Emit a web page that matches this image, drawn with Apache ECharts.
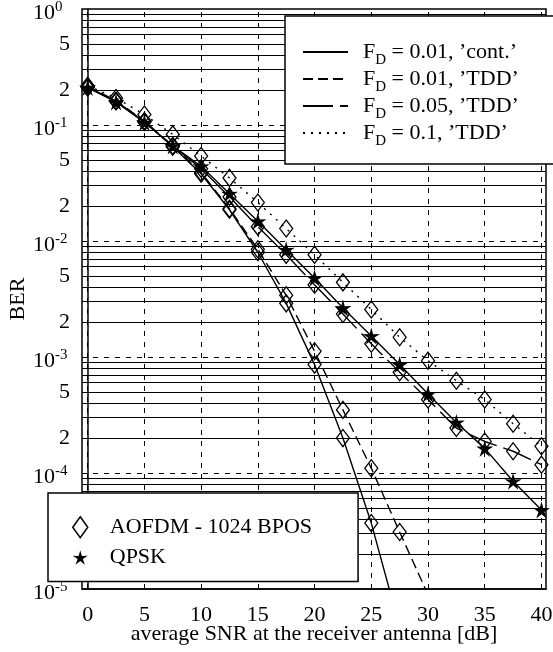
<!DOCTYPE html>
<html>
<head>
<meta charset="utf-8">
<script src="https://cdn.jsdelivr.net/npm/echarts@6/dist/echarts.min.js"></script>
<style>
  html, body { margin: 0; background: #fff; }
  #chart { width: 553px; height: 652px; }
</style>
</head>
<body>
<div id="chart"></div>
<script>
const SERIF = '"Liberation Serif", "DejaVu Serif", serif';

// average SNR [dB]
const snr = [0, 2.5, 5, 7.5, 10, 12.5, 15, 17.5, 20, 22.5, 25, 27.5, 30, 32.5, 35, 37.5, 40];

// AOFDM - 1024 BPOS, BER per SNR point
const aofdmFd001Cont = [0.213, 0.16, 0.107, 0.065, 0.038, 0.0186, 0.0080, 0.0029, 0.00086, 0.0002, 0.000037, 0.0000047];
const aofdmFd001Tdd = [0.215, 0.162, 0.108, 0.066, 0.039, 0.019, 0.0085, 0.0034, 0.00112, 0.00035, 0.00011, 0.000031, 0.0000089];
const aofdmFd005Tdd = [0.21, 0.16, 0.106, 0.066, 0.042, 0.024, 0.0133, 0.0076, 0.0042, 0.00235, 0.0013, 0.00074, 0.00043, 0.000244, 0.000187, 0.000154, 0.000118];
const aofdmFd01Tdd = [0.218, 0.171, 0.123, 0.083, 0.054, 0.035, 0.0215, 0.0128, 0.0076, 0.0044, 0.00257, 0.00148, 0.00093, 0.000625, 0.00043, 0.000266, 0.00017];
// QPSK
const qpsk = [0.21, 0.158, 0.105, 0.066, 0.044, 0.0256, 0.0148, 0.0084, 0.0048, 0.00264, 0.00152, 0.00086, 0.00048, 0.000273, 0.000163, 0.000085, 0.000048];

// axes
const xTickValues = [0, 5, 10, 15, 20, 25, 30, 35, 40];
const decadeExponents = [-5, -4, -3, -2, -1, 0];
const minorMantissas = [2, 3, 4, 5, 6, 7, 8, 9];
const labelledMantissas = [2, 5];

// legend texts
const lineLegendNames = ['FD = 0.01, ’cont.’', 'FD = 0.01, ’TDD’', 'FD = 0.05, ’TDD’', 'FD = 0.1, ’TDD’'];
const markerLegendNames = ['AOFDM - 1024 BPOS', 'QPSK'];

const STAR = 'path://M0,-10 L2.06,-2.83 L9.51,-3.09 L3.33,1.08 L5.88,8.09 L0,3.5 L-5.88,8.09 L-3.33,1.08 L-9.51,-3.09 L-2.06,-2.83 Z';

const dashTypes = ['solid', [10, 5], [30, 7], [2, 6]];
const diamondStyle = { color: 'rgba(255,255,255,0)', borderColor: '#000', borderWidth: 1.3 };

function pairs(ys) {
  return ys.map((y, i) => [snr[i], y]);
}

// grid lines: dashed verticals and decades, solid minor decades
const gridLines = [];
xTickValues.forEach(v => gridLines.push({ xAxis: v, lineStyle: { type: [5, 6], width: 1, color: '#000' } }));
decadeExponents.forEach(e => {
  if (e === 0 || e === -5) return;
  gridLines.push({ yAxis: Math.pow(10, e), lineStyle: { type: [5, 6], width: 1, color: '#000' } });
});
decadeExponents.forEach(e => {
  if (e === 0) return;
  minorMantissas.forEach(m => {
    const item = { yAxis: m * Math.pow(10, e), lineStyle: { type: 'solid', width: 1, color: '#000' } };
    if (labelledMantissas.includes(m)) {
      item.label = { show: true, formatter: String(m) };
    }
    gridLines.push(item);
  });
});

const aofdmSets = [aofdmFd001Cont, aofdmFd001Tdd, aofdmFd005Tdd, aofdmFd01Tdd];

const series = [];
series.push({
  name: 'grid', type: 'line', data: [], symbol: 'none', silent: true, z: 1,
  markLine: {
    silent: true, z: 1, precision: 12, symbol: ['none', 'none'], animation: false,
    label: { show: false, position: 'start', distance: 12, color: '#000', fontFamily: SERIF, fontSize: 22 },
    emphasis: { disabled: true },
    data: gridLines
  }
});
aofdmSets.forEach((ys, i) => {
  series.push({
    name: 'aofdm' + i, type: 'line', data: pairs(ys),
    symbol: 'diamond', symbolSize: [13, 17], showAllSymbol: true,
    itemStyle: diamondStyle,
    lineStyle: { color: '#000', width: 1.4, type: dashTypes[i] },
    z: 3
  });
});
series.push({
  name: 'qpsk', type: 'line', data: pairs(qpsk),
  symbol: STAR, symbolSize: 17, showAllSymbol: true,
  itemStyle: { color: '#000' },
  lineStyle: { color: '#000', width: 1.4, type: 'solid' },
  z: 3
});
// legend-only entries
lineLegendNames.forEach((name, i) => {
  series.push({ name, type: 'line', data: [], symbol: 'none', color: '#000', lineStyle: { color: '#000', width: 1.4, type: dashTypes[i] } });
});
series.push({ name: markerLegendNames[0], type: 'line', data: [], symbol: 'diamond', color: '#000', itemStyle: diamondStyle });
series.push({ name: markerLegendNames[1], type: 'line', data: [], symbol: STAR, color: '#000', itemStyle: { color: '#000' } });

const chart = echarts.init(document.getElementById('chart'), null, { renderer: 'canvas' });
chart.setOption({
  animation: false,
  backgroundColor: '#fff',
  textStyle: { fontFamily: SERIF, color: '#000' },
  grid: {
    left: 82, right: 7, top: 9, bottom: 63, outerBoundsMode: 'none', containLabel: false,
    show: true, borderColor: '#000', borderWidth: 1.5, backgroundColor: '#fff'
  },
  xAxis: {
    type: 'value', min: -0.5, max: 40.4,
    name: 'average SNR at the receiver antenna [dB]', nameLocation: 'middle', nameGap: 34, nameMoveOverlap: false,
    nameTextStyle: { fontFamily: SERIF, fontSize: 22, color: '#000' },
    axisLine: { show: true, lineStyle: { color: '#000', width: 1.5 } },
    axisTick: { show: false },
    splitLine: { show: false },
    axisLabel: { customValues: xTickValues, margin: 15, fontFamily: SERIF, fontSize: 22, color: '#000' }
  },
  yAxis: {
    type: 'log', logBase: 10, min: 1e-5, max: 1,
    name: 'BER', nameLocation: 'middle', nameGap: 53, nameMoveOverlap: false,
    nameTextStyle: { fontFamily: SERIF, fontSize: 22, color: '#000' },
    axisLine: { show: true, lineStyle: { color: '#000', width: 1.5 } },
    axisTick: { show: false },
    splitLine: { show: false },
    axisLabel: {
      showMinLabel: true, showMaxLabel: true, align: 'left', margin: 49,
      formatter: v => '{b|10}{e|' + Math.round(Math.log10(v)) + '}',
      rich: {
        b: { fontFamily: SERIF, fontSize: 22, lineHeight: 22, padding: [9, 0, 0, 0], color: '#000' },
        e: { fontFamily: SERIF, fontSize: 15, lineHeight: 15, verticalAlign: 'top', padding: [2, 0, 0, 0], color: '#000' }
      }
    }
  },
  legend: [
    {
      orient: 'vertical', left: 285, top: 16, selectedMode: false,
      data: lineLegendNames,
      itemWidth: 45, itemHeight: 14, itemGap: 0,
      itemStyle: { color: 'rgba(0,0,0,0)', borderWidth: 0, opacity: 0 },
      backgroundColor: '#fff', borderColor: '#000', borderWidth: 1.5, borderRadius: 0,
      padding: [25, 40, 15, 17],
      formatter: name => '{n|F}{s|D}{n|' + name.slice(2) + '}',
      textStyle: {
        padding: [0, 0, 0, 10],
        rich: {
          n: { fontFamily: SERIF, fontSize: 22, lineHeight: 22, verticalAlign: 'top', color: '#000' },
          s: { fontFamily: SERIF, fontSize: 15, lineHeight: 15, verticalAlign: 'top', padding: [12, 0, 0, 0], color: '#000' }
        }
      }
    },
    {
      orient: 'vertical', left: 48, top: 493, selectedMode: false,
      data: [
        { name: markerLegendNames[0], icon: 'diamond', itemStyle: { color: '#fff', borderColor: '#000', borderWidth: 1.5 } },
        { name: markerLegendNames[1], icon: STAR, itemStyle: { color: '#000', borderWidth: 0 } }
      ],
      itemWidth: 15, itemHeight: 21, itemGap: 8,
      backgroundColor: '#fff', borderColor: '#000', borderWidth: 1.5, borderRadius: 0,
      padding: [23, 46, 13, 24],
      textStyle: { fontFamily: SERIF, fontSize: 22, color: '#000', padding: [0, 0, 0, 17] }
    }
  ],
  series
});
</script>
</body>
</html>
